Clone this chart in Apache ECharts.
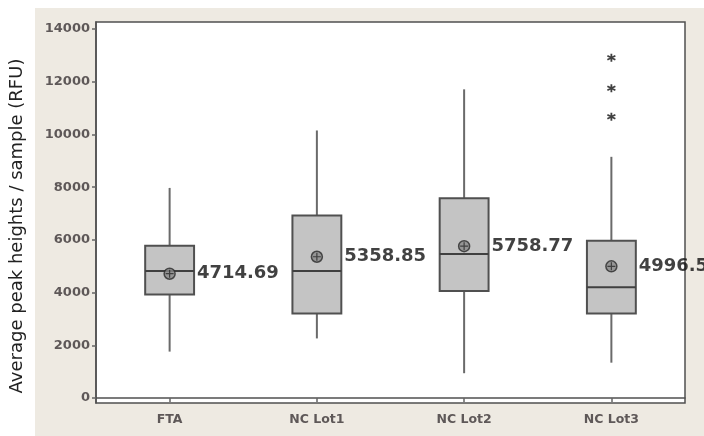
<!DOCTYPE html>
<html>
<head>
<meta charset="utf-8">
<script src="https://cdn.jsdelivr.net/npm/echarts@6/dist/echarts.min.js"></script>
<style>
html,body{margin:0;padding:0;background:#fff;}
#c{width:704px;height:436px;}
</style>
</head>
<body>
<div id="c"></div>
<script>
var categories = ['FTA', 'NC Lot1', 'NC Lot2', 'NC Lot3'];
var whiskerLow = [1760, 2260, 940, 1340];
var q1 = [3930, 3210, 4060, 3210];
var median = [4820, 4820, 5460, 4200];
var q3 = [5780, 6920, 7580, 5970];
var whiskerHigh = [7970, 10150, 11710, 9150];
var means = [4714.69, 5358.85, 5758.77, 4996.5];
var meanLabels = ['4714.69', '5358.85', '5758.77', '4996.5'];
var outlierCat = ['NC Lot3', 'NC Lot3', 'NC Lot3'];
var outlierVal = [12910, 11750, 10670];
var yTicks = [0, 2000, 4000, 6000, 8000, 10000, 12000, 14000];

var boxData = categories.map(function (c, i) {
  return [i, whiskerLow[i], q1[i], median[i], q3[i], whiskerHigh[i]];
});
var meanData = categories.map(function (c, i) { return [c, means[i]]; });
var outlierData = outlierCat.map(function (c, i) { return [c, outlierVal[i]]; });

function renderBox(params, api) {
  var ci = api.value(0);
  var pLow = api.coord([ci, api.value(1)]);
  var pQ1 = api.coord([ci, api.value(2)]);
  var pMed = api.coord([ci, api.value(3)]);
  var pQ3 = api.coord([ci, api.value(4)]);
  var pHigh = api.coord([ci, api.value(5)]);
  var half = api.size([1, 0])[0] * 0.166;
  var x = pQ1[0];
  var wl = {stroke: '#6a6a6a', lineWidth: 2};
  return {
    type: 'group',
    children: [
      {type: 'line', shape: {x1: x, y1: pHigh[1], x2: x, y2: pQ3[1]}, style: wl},
      {type: 'line', shape: {x1: x, y1: pQ1[1], x2: x, y2: pLow[1]}, style: wl},
      {type: 'rect', shape: {x: x - half, y: pQ3[1], width: half * 2, height: pQ1[1] - pQ3[1]},
        style: {fill: '#c4c4c4', stroke: '#505050', lineWidth: 2}},
      {type: 'line', shape: {x1: x - half, y1: pMed[1], x2: x + half, y2: pMed[1]},
        style: {stroke: '#404040', lineWidth: 2}}
    ]
  };
}

var chart = echarts.init(document.getElementById('c'));
chart.setOption({
  animation: false,
  backgroundColor: 'transparent',
  graphic: [
    {type: 'rect', z: -100, silent: true, shape: {x: 35, y: 8, width: 669, height: 428}, style: {fill: '#eeeae2'}},
    {type: 'text', x: 17, y: 226, rotation: Math.PI / 2, silent: true,
      style: {text: 'Average peak heights / sample (RFU)', fontFamily: 'DejaVu Sans', fontSize: 18,
        fill: '#222', textAlign: 'center', textVerticalAlign: 'middle'}}
  ],
  grid: {left: 96, right: 19, top: 22, bottom: 33, show: true, backgroundColor: '#fff',
    borderColor: '#505050', borderWidth: 1.5},
  xAxis: {
    type: 'category', data: categories, boundaryGap: true,
    axisLine: {show: true, lineStyle: {color: '#505050', width: 1.5}},
    axisTick: {show: true, alignWithLabel: true, length: 4, lineStyle: {color: '#666', width: 1.5}},
    axisLabel: {color: '#5e5858', fontFamily: 'DejaVu Sans', fontWeight: 'bold', fontSize: 12.5, margin: 10},
    splitLine: {show: false}
  },
  yAxis: {
    type: 'value', min: -190, max: 14265,
    axisLine: {show: true, lineStyle: {color: '#505050', width: 1.5}},
    axisTick: {show: true, length: 4, customValues: yTicks, lineStyle: {color: '#666', width: 1.5}},
    axisLabel: {customValues: yTicks, color: '#5e5858', fontFamily: 'DejaVu Sans', fontWeight: 'bold', fontSize: 13, margin: 6,
      formatter: function (v) { return String(v); }},
    splitLine: {show: false}
  },
  series: [
    {type: 'custom', renderItem: renderBox, data: boxData, encode: {x: 0, y: [1, 2, 3, 4, 5]}, z: 2},
    {type: 'scatter', data: meanData, symbol: 'circle', symbolSize: 11, z: 3,
      itemStyle: {color: '#8a8a8a', borderColor: '#2a2a2a', borderWidth: 1.5},
      label: {show: true, position: 'right', distance: 21,
        formatter: function (p) { return meanLabels[p.dataIndex]; },
        fontFamily: 'DejaVu Sans', fontWeight: 'bold', fontSize: 18, color: '#111'}},
    {type: 'scatter', data: meanData, symbol: 'path://M5,0L5,10M0,5L10,5', symbolSize: 8, z: 4,
      itemStyle: {color: 'none', borderColor: '#2a2a2a', borderWidth: 1.2}},
    {type: 'scatter', data: outlierData, symbol: 'path://M5,0L5,10M0.7,2.5L9.3,7.5M0.7,7.5L9.3,2.5',
      symbolSize: 8, z: 4, itemStyle: {color: 'none', borderColor: '#111', borderWidth: 1.8}}
  ]
});
</script>
</body>
</html>
